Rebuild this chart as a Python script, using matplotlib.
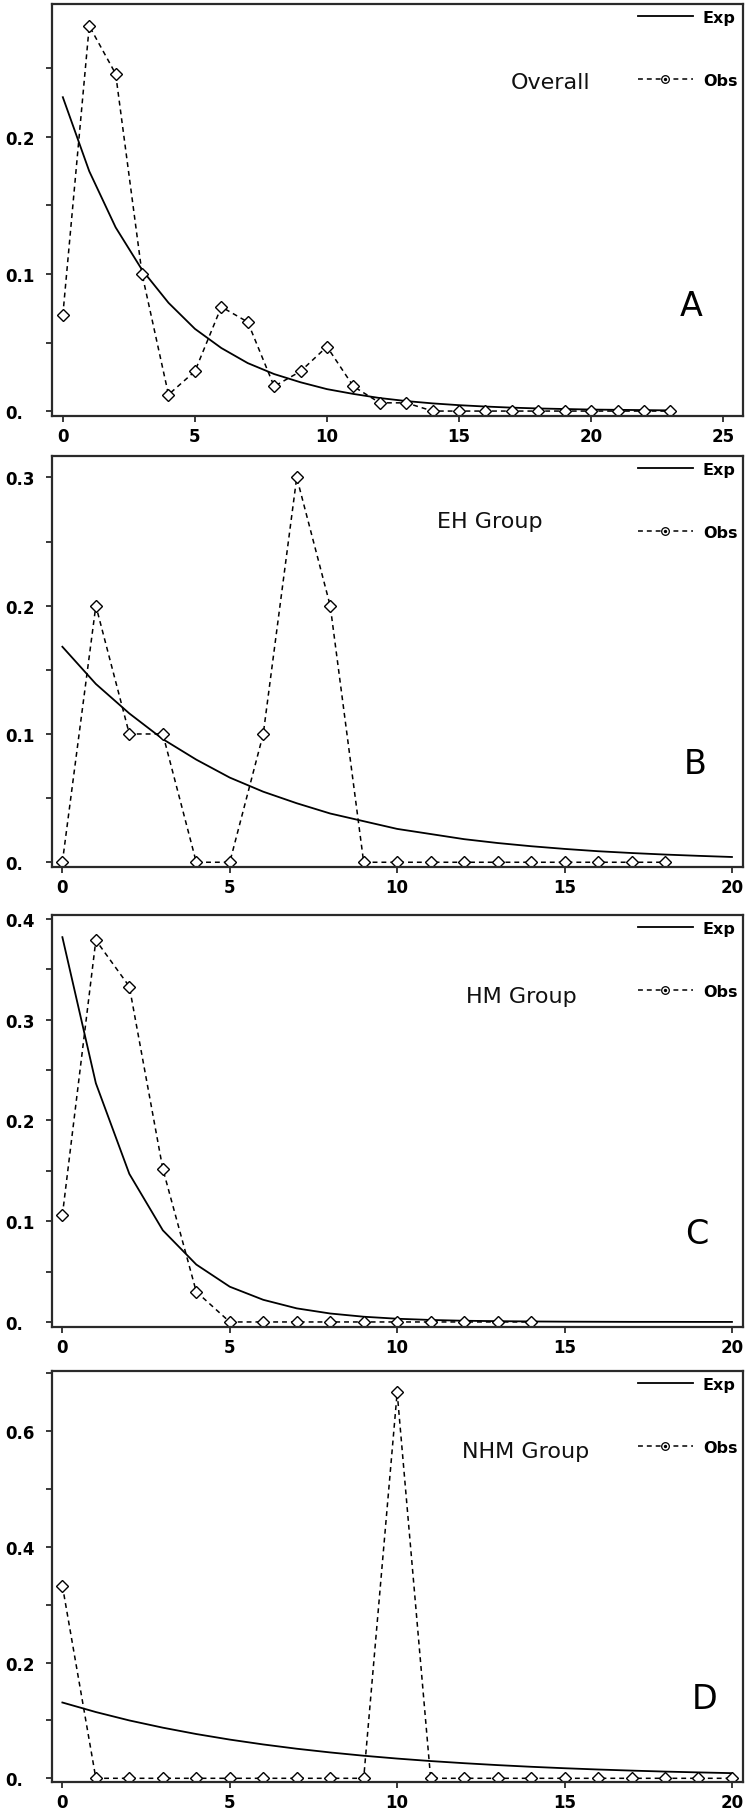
import matplotlib
matplotlib.use("Agg")
import matplotlib.pyplot as plt
from matplotlib.lines import Line2D
from matplotlib.legend_handler import HandlerTuple

# ---------------- data ----------------
panel_names = ["Overall", "EH Group", "HM Group", "NHM Group"]
panel_letters = ["A", "B", "C", "D"]

obs_a = [0.070, 0.281, 0.246, 0.100, 0.012, 0.029, 0.076, 0.065, 0.018, 0.029,
         0.047, 0.018, 0.006, 0.006, 0, 0, 0, 0, 0, 0, 0, 0, 0, 0]
exp_a = [0.229, 0.175, 0.134, 0.103, 0.079, 0.060, 0.046, 0.035, 0.027, 0.021,
         0.016, 0.0125, 0.0095, 0.0073, 0.0056, 0.0043, 0.0033, 0.0025, 0.0019,
         0.0015, 0.0011, 0.0009, 0.0007, 0.0005]

obs_b = [0, 0.2, 0.1, 0.1, 0, 0, 0.1, 0.3, 0.2, 0, 0, 0, 0, 0, 0, 0, 0, 0, 0]
exp_b = [0.168, 0.139, 0.116, 0.096, 0.080, 0.066, 0.055, 0.046, 0.038, 0.032,
         0.026, 0.022, 0.018, 0.015, 0.0125, 0.0104, 0.0086, 0.0072, 0.0060,
         0.0050, 0.0041]

obs_c = [0.106, 0.379, 0.333, 0.152, 0.030, 0, 0, 0, 0, 0, 0, 0, 0, 0, 0]
exp_c = [0.382, 0.237, 0.147, 0.091, 0.057, 0.035, 0.022, 0.0135, 0.0084, 0.0052,
         0.0032, 0.002, 0.0012, 0.0008, 0.0005, 0.0003, 0.0002, 0.0001, 0.0001,
         0.00005, 0.00003]

obs_d = [0.333, 0, 0, 0, 0, 0, 0, 0, 0, 0, 0.667, 0, 0, 0, 0, 0, 0, 0, 0, 0, 0]
exp_d = [0.131, 0.1145, 0.100, 0.0875, 0.0765, 0.0669, 0.0585, 0.0511, 0.0447,
         0.0390, 0.0341, 0.0298, 0.0261, 0.0228, 0.0199, 0.0174, 0.0152, 0.0133,
         0.0116, 0.0102, 0.0089]

xticks_a = [0, 5, 10, 15, 20, 25]
xticks_bcd = [0, 5, 10, 15, 20]
yticks_a = [0.0, 0.1, 0.2]
ylabels_a = ["0.", "0.1", "0.2"]
yticks_b = [0.0, 0.1, 0.2, 0.3]
ylabels_b = ["0.", "0.1", "0.2", "0.3"]
yticks_c = [0.0, 0.1, 0.2, 0.3, 0.4]
ylabels_c = ["0.", "0.1", "0.2", "0.3", "0.4"]
yticks_d = [0.0, 0.2, 0.4, 0.6]
ylabels_d = ["0.", "0.2", "0.4", "0.6"]
yminor_a = [0.05, 0.15, 0.25]
yminor_b = [0.05, 0.15, 0.25]
yminor_c = [0.05, 0.15, 0.25, 0.35]
yminor_d = [0.1, 0.3, 0.5, 0.7]

# ---------------- layout (pixels) ----------------
W, H = 750, 1815
fig = plt.figure(figsize=(W / 100, H / 100), dpi=100)
boxes = [(52, 743, 5, 417), (52, 743, 457, 868), (52, 743, 916, 1328), (52, 743, 1372, 1783)]
xlims = [(-0.41, 25.75), (-0.31, 20.33), (-0.31, 20.33), (-0.31, 20.33)]
ylims = [(-0.0036, 0.297), (-0.0037, 0.3167), (-0.005, 0.404), (-0.0064, 0.704)]
name_pos = [(0.722, 0.811), (0.634, 0.843), (0.679, 0.804), (0.685, 0.806)]
letter_pos = [(0.925, 0.268), (0.931, 0.251), (0.933, 0.226), (0.944, 0.202)]

panels = [
    (obs_a, exp_a, xticks_a, yticks_a, ylabels_a, yminor_a),
    (obs_b, exp_b, xticks_bcd, yticks_b, ylabels_b, yminor_b),
    (obs_c, exp_c, xticks_bcd, yticks_c, ylabels_c, yminor_c),
    (obs_d, exp_d, xticks_bcd, yticks_d, ylabels_d, yminor_d),
]

spine_col = "#2a2a2a"
dash = (0, (3.2, 2.6))

for i, (obs, exp, xt, yt, yl, ym) in enumerate(panels):
    l, r, t, b = boxes[i]
    ax = fig.add_axes([l / W, 1 - b / H, (r - l) / W, (b - t) / H])
    ax.plot(range(len(exp)), exp, color="black", lw=1.3, solid_joinstyle="miter")
    ax.plot(range(len(obs)), obs, color="black", lw=1.1, linestyle=dash,
            marker="D", markersize=5.8, markerfacecolor="white",
            markeredgecolor="black", markeredgewidth=1.0)
    ax.set_xlim(*xlims[i])
    ax.set_ylim(*ylims[i])
    ax.set_xticks(xt)
    ax.set_xticklabels([str(v) for v in xt])
    ax.set_yticks(yt)
    ax.set_yticklabels(yl)
    ax.set_yticks(ym, minor=True)
    for s in ax.spines.values():
        s.set_color(spine_col)
        s.set_linewidth(1.6)
    ax.tick_params(axis="x", length=4, width=1.3, color=spine_col, pad=4,
                   labelsize=12)
    ax.tick_params(axis="y", which="both", length=4.3, width=1.3, color=spine_col,
                   pad=29.5, labelsize=12)
    for lab in ax.get_xticklabels() + ax.get_yticklabels():
        lab.set_fontweight("bold")
    for lab in ax.get_yticklabels():
        lab.set_horizontalalignment("left")

    h_exp = Line2D([], [], color="black", lw=1.3)
    h_obs = Line2D([], [], color="black", lw=1.1, linestyle=dash)
    h_mk = Line2D([], [], color="black", lw=0, marker="o", markersize=5.5,
                  markerfacecolor="white", markeredgewidth=0.9)
    h_dot = Line2D([], [], color="black", lw=0, marker="o", markersize=1.4)
    leg = ax.legend([h_exp, (h_obs, h_mk, h_dot)], ["Exp", "Obs"],
                    handler_map={tuple: HandlerTuple(ndivide=1)},
                    loc="upper right", bbox_to_anchor=(1, 1), borderaxespad=0,
                    borderpad=0.35, frameon=False, handlelength=3.4,
                    handletextpad=0.65, labelspacing=3.0,
                    prop={"weight": "bold", "size": 11.5})

    ax.text(name_pos[i][0], name_pos[i][1], panel_names[i], transform=ax.transAxes,
            ha="center", va="center", fontsize=16, color="#111111")
    ax.text(letter_pos[i][0], letter_pos[i][1], panel_letters[i], transform=ax.transAxes,
            ha="center", va="center", fontsize=24, color="black")

fig.savefig("out.png", dpi=100)
